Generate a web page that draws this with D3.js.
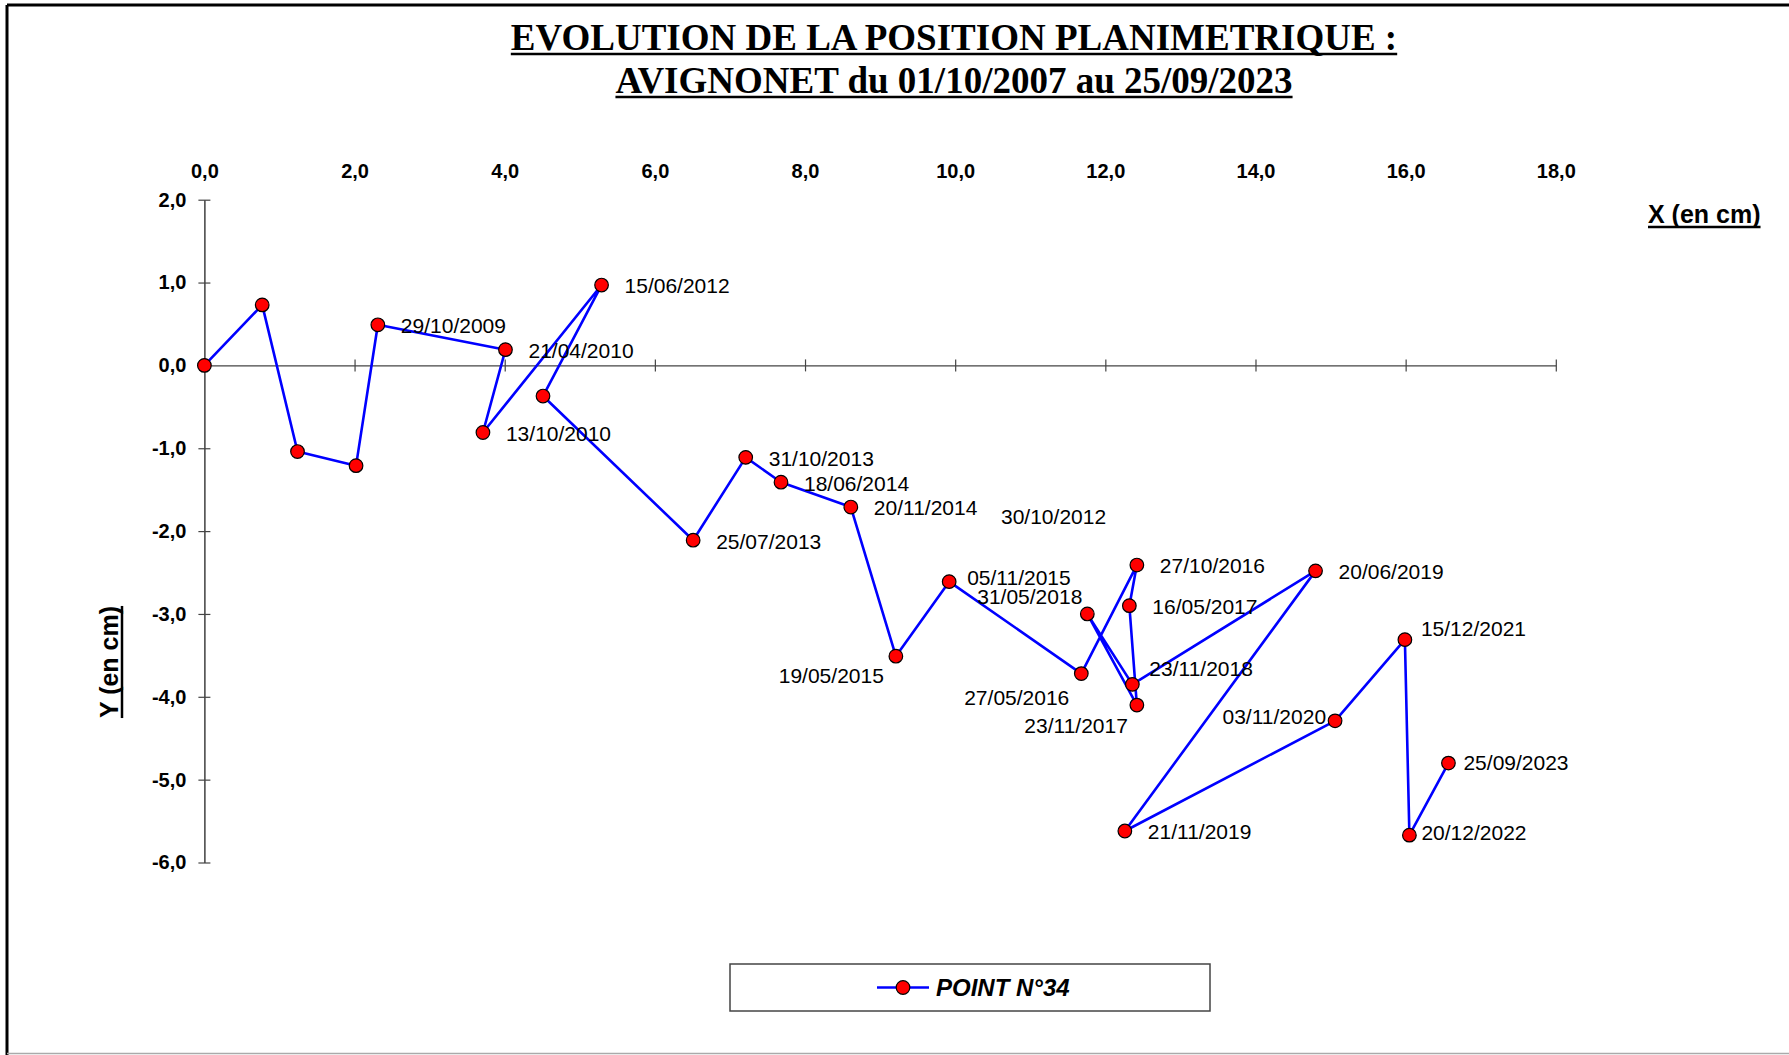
<!DOCTYPE html>
<html>
<head>
<meta charset="utf-8">
<script src="https://cdn.jsdelivr.net/npm/d3@7"></script>
<style>
  body { margin: 0; background: #fff; }
  svg { display: block; }
  text { font-family: "Liberation Sans", Arial, sans-serif; }
</style>
</head>
<body>
<svg id="chart" width="1789" height="1055"></svg>
<script>
// measured values, point 34 (cm)
var dates = ["", "", "", "", "29/10/2009", "21/04/2010", "13/10/2010", "15/06/2012",
  "30/10/2012", "25/07/2013", "31/10/2013", "18/06/2014", "20/11/2014", "19/05/2015",
  "05/11/2015", "27/05/2016", "27/10/2016", "16/05/2017", "23/11/2017", "31/05/2018",
  "23/11/2018", "20/06/2019", "21/11/2019", "03/11/2020", "15/12/2021", "20/12/2022",
  "25/09/2023"];
var xValues = [0, 0.77, 1.24, 2.02, 2.31, 4.01, 3.71, 5.29, 4.51, 6.51, 7.21, 7.68, 8.61,
  9.21, 9.92, 11.68, 12.42, 12.32, 12.42, 11.76, 12.36, 14.80, 12.26, 15.06, 15.99, 16.05, 16.57];
var yValues = [0, 0.73, -1.04, -1.21, 0.49, 0.19, -0.81, 0.97, -0.37, -2.11, -1.11, -1.41,
  -1.71, -3.51, -2.61, -3.72, -2.41, -2.90, -4.10, -3.00, -3.85, -2.48, -5.62, -4.29,
  -3.31, -5.67, -4.80];
var xTicks = [0, 2, 4, 6, 8, 10, 12, 14, 16, 18];
var yTicks = [2, 1, 0, -1, -2, -3, -4, -5, -6];
var seriesName = "POINT N°34";
var titleLines = ["EVOLUTION DE LA POSITION PLANIMETRIQUE :", "AVIGNONET du 01/10/2007 au 25/09/2023"];

// labels that were moved by hand in the original sheet
var labelMoves = {
  "30/10/2012": {dx: 458, dy: 121},
  "19/05/2015": {dx: -12, dy: 19, end: true},
  "05/11/2015": {dx: 18, dy: -4},
  "31/05/2018": {dx: -5, dy: -17, end: true},
  "27/05/2016": {dx: -12, dy: 24, end: true},
  "23/11/2018": {dx: 17, dy: -16},
  "23/11/2017": {dx: -9, dy: 21, end: true},
  "15/12/2021": {dx: 16, dy: -11},
  "03/11/2020": {dx: -9, dy: -4, end: true},
  "25/09/2023": {dx: 15, dy: 0},
  "20/12/2022": {dx: 12, dy: -3}
};

// french decimal comma, plain hyphen for negatives
var fmt = function(v) {
  return d3.format(".1f")(v).replace(".", ",").replace("\u2212", "-");
};

var svg = d3.select("svg#chart");

var xScale = d3.scaleLinear().domain([0, 18]).range([204.4, 1555.8]);
var yScale = d3.scaleLinear().domain([2, -6]).range([199.7, 862.5]);

// frame
svg.append("line").attr("x1", 7).attr("x2", 1789).attr("y1", 5).attr("y2", 5)
  .attr("stroke", "#000").attr("stroke-width", 3);
svg.append("line").attr("x1", 7).attr("x2", 7).attr("y1", 5).attr("y2", 1055)
  .attr("stroke", "#000").attr("stroke-width", 3);
svg.append("line").attr("x1", 7).attr("x2", 1789).attr("y1", 1053.5).attr("y2", 1053.5)
  .attr("stroke", "#aaa").attr("stroke-width", 1.5);

var underline = function(g, textNode, offset, width) {
  var box = textNode.getBBox();
  g.append("line")
    .attr("x1", box.x).attr("x2", box.x + box.width)
    .attr("y1", offset).attr("y2", offset)
    .attr("stroke", "#000").attr("stroke-width", width);
};

// title
titleLines.forEach(function(line, i) {
  var g = svg.append("g").attr("transform", "translate(954," + (50 + i * 43) + ")");
  var t = g.append("text")
    .attr("text-anchor", "middle")
    .style("font-family", "'Liberation Serif', 'Times New Roman', serif")
    .style("font-weight", "bold")
    .style("font-size", "37px")
    .text(line);
  underline(g, t.node(), 4, 2.5);
});

// x axis on y = 0, labels on top
var xAxis = d3.axisBottom(xScale).tickValues(xTicks.slice(1)).tickFormat("").tickSizeOuter(0);
var gx = svg.append("g")
  .attr("transform", "translate(0," + yScale(0) + ")")
  .call(xAxis);
gx.select(".domain").attr("stroke", "#444").attr("stroke-width", 1.4);
gx.selectAll(".tick line").attr("y1", -6).attr("y2", 6).attr("stroke", "#444").attr("stroke-width", 1.2);

var xLabels = d3.axisTop(xScale).tickValues(xTicks).tickFormat(fmt).tickSize(0);
var gxl = svg.append("g").attr("transform", "translate(0,181)").call(xLabels);
gxl.select(".domain").remove();
gxl.selectAll("text")
  .style("font-family", "'Liberation Sans', Arial, sans-serif")
  .style("font-weight", "bold").style("font-size", "20px").attr("fill", "#000");

// y axis
var yAxis = d3.axisLeft(yScale).tickValues(yTicks).tickFormat(fmt).tickSizeOuter(0).tickPadding(12);
var gy = svg.append("g")
  .attr("transform", "translate(" + xScale(0) + ",0)")
  .call(yAxis);
gy.select(".domain").attr("stroke", "#222").attr("stroke-width", 1.3);
gy.selectAll(".tick line").attr("x1", -6).attr("x2", 6).attr("stroke", "#444").attr("stroke-width", 1.2);
gy.selectAll("text")
  .style("font-family", "'Liberation Sans', Arial, sans-serif")
  .style("font-weight", "bold").style("font-size", "20px").attr("fill", "#000");

// axis titles
var gxt = svg.append("g").attr("transform", "translate(1648,223)");
var xt = gxt.append("text").style("font-weight", "bold").style("font-size", "25px").text("X (en cm)");
underline(gxt, xt.node(), 4, 2.5);

var gyt = svg.append("g").attr("transform", "translate(118,662) rotate(-90)");
var yt = gyt.append("text").attr("text-anchor", "middle")
  .style("font-weight", "bold").style("font-size", "25px").text("Y (en cm)");
underline(gyt, yt.node(), 4, 2.5);

// series
var points = dates.map(function(d, i) { return {date: d, x: xValues[i], y: yValues[i]}; });

var line = d3.line().x(function(d) { return xScale(d.x); }).y(function(d) { return yScale(d.y); });

svg.append("path")
  .datum(points)
  .attr("d", line)
  .attr("fill", "none")
  .attr("stroke", "#0000ff")
  .attr("stroke-width", 2.6)
  .attr("stroke-linejoin", "round");

svg.selectAll("circle.pt")
  .data(points)
  .enter()
  .append("circle")
  .attr("class", "pt")
  .attr("cx", function(d) { return xScale(d.x); })
  .attr("cy", function(d) { return yScale(d.y); })
  .attr("r", 6.8)
  .attr("fill", "#ff0000")
  .attr("stroke", "#000")
  .attr("stroke-width", 1.2);

svg.selectAll("text.lbl")
  .data(points.filter(function(d) { return d.date !== ""; }))
  .enter()
  .append("text")
  .attr("class", "lbl")
  .attr("x", function(d) {
    var m = labelMoves[d.date];
    return xScale(d.x) + (m ? m.dx : 23);
  })
  .attr("y", function(d) {
    var m = labelMoves[d.date];
    return yScale(d.y) + (m ? m.dy : 1);
  })
  .attr("dy", "0.35em")
  .attr("text-anchor", function(d) {
    var m = labelMoves[d.date];
    return m && m.end ? "end" : "start";
  })
  .style("font-size", "21px")
  .attr("fill", "#000")
  .text(function(d) { return d.date; });

// legend
var legend = svg.append("g").attr("transform", "translate(730,964)");
legend.append("rect")
  .attr("width", 480).attr("height", 47)
  .attr("fill", "#fff").attr("stroke", "#444").attr("stroke-width", 1.5);
legend.append("line")
  .attr("x1", 147).attr("x2", 199).attr("y1", 23.5).attr("y2", 23.5)
  .attr("stroke", "#0000ff").attr("stroke-width", 2.6);
legend.append("circle")
  .attr("cx", 173).attr("cy", 23.5).attr("r", 6.8)
  .attr("fill", "#ff0000").attr("stroke", "#000").attr("stroke-width", 1.2);
legend.append("text")
  .attr("x", 206).attr("y", 23.5).attr("dy", "0.35em")
  .style("font-weight", "bold").style("font-style", "italic").style("font-size", "24px")
  .text(seriesName);
</script>
</body>
</html>
